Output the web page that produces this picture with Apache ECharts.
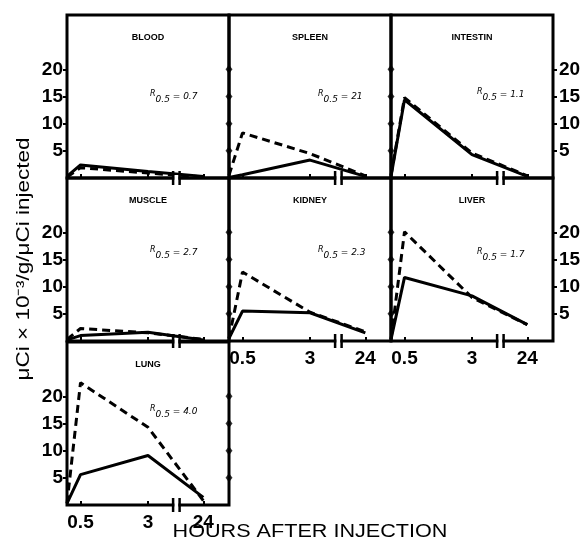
<!DOCTYPE html>
<html>
<head>
<meta charset="utf-8">
<script src="https://cdn.jsdelivr.net/npm/echarts@6/dist/echarts.min.js"></script>
<style>
  html, body { margin: 0; padding: 0; background: #fff; }
  #chart { width: 585px; height: 548px; }
</style>
</head>
<body>
<div id="chart"></div>
<script>
  // sampling times (hours) and tick labels
  const hours = [0, 0.5, 3, 24];
  const tickHours = [0.5, 3, 24];
  const yTicks = [5, 10, 15, 20];

  const organs = ['BLOOD', 'SPLEEN', 'INTESTIN', 'MUSCLE', 'KIDNEY', 'LIVER', 'LUNG'];
  const ratios = ['0.7', '21', '1.1', '2.7', '2.3', '1.7', '4.0'];

  // solid / dashed curves
  const bloodSolid = [0.3, 2.4, 1.2, 0.3];
  const bloodDashed = [0.2, 1.9, 0.9, 0.2];
  const spleenSolid = [0.1, 0.6, 3.3, 0.3];
  const spleenDashed = [0.5, 8.3, 4.5, 0.4];
  const intestinSolid = [0.3, 14.4, 4.3, 0.3];
  const intestinDashed = [0.5, 14.8, 4.6, 0.4];
  const muscleSolid = [0.2, 1.0, 1.6, 0.2];
  const muscleDashed = [0.3, 2.3, 1.5, 0.3];
  const kidneySolid = [0.5, 5.5, 5.2, 1.5];
  const kidneyDashed = [0.5, 12.7, 5.3, 1.7];
  const liverSolid = [0.3, 11.7, 8.3, 3.0];
  const liverDashed = [0.3, 20.1, 8.0, 3.0];
  const lungSolid = [0.3, 5.6, 9.1, 1.4];
  const lungDashed = [0.3, 22.5, 14.3, 0.8];

  const solids = [bloodSolid, spleenSolid, intestinSolid, muscleSolid, kidneySolid, liverSolid, lungSolid];
  const dashes = [bloodDashed, spleenDashed, intestinDashed, muscleDashed, kidneyDashed, liverDashed, lungDashed];

  // broken time axis: linear up to the break, compressed after it
  const breakAt = 4.05;
  const farPos = 5.05;
  function xPos(h) {
    if (h <= breakAt) return h;
    return breakAt + (h - breakAt) * (farPos - breakAt) / (24 - breakAt);
  }
  const tickPos = tickHours.map(xPos);

  // layout
  const cells = [[0, 0], [1, 0], [2, 0], [0, 1], [1, 1], [2, 1], [0, 2]];
  const colLeft = [67, 229, 391];
  const rowTop = [15, 178, 342];
  const W = 162, H = 163;
  const rTop = [82, 82, 80, 75, 75, 77, 70];
  const rLeft = [83, 89, 86, 83, 89, 86, 83];

  const labelFont = { color: '#000', fontSize: 19, fontWeight: 'bold', fontFamily: 'Liberation Sans' };

  let grid = [], xAxis = [], yAxis = [], series = [], graphic = [];

  cells.forEach((c, i) => {
    const col = c[0], row = c[1];
    grid.push({
      left: colLeft[col], top: rowTop[row], width: W, height: H,
      show: true, borderColor: '#000', borderWidth: 3, backgroundColor: 'transparent'
    });
    const showX = (i === 4 || i === 5 || i === 6);
    xAxis.push({
      type: 'value', gridIndex: i, min: 0, max: 6,
      axisLine: { show: false },
      splitLine: { show: false },
      axisTick: { show: true, inside: true, length: 4, customValues: tickPos, lineStyle: { color: '#000', width: 2 } },
      axisLabel: {
        show: showX, customValues: tickPos, margin: 8,
        formatter: v => {
          let k = tickPos.findIndex(p => Math.abs(p - v) < 1e-6);
          return k >= 0 ? String(tickHours[k]) : '';
        },
        ...labelFont
      }
    });
    yAxis.push({
      type: 'value', gridIndex: i, min: 0, max: 30,
      axisLine: { show: false },
      splitLine: { show: false },
      axisTick: { show: col === 0, length: 4, customValues: yTicks, lineStyle: { color: '#000', width: 2 } },
      axisLabel: { show: col === 0, customValues: yTicks, margin: 4, ...labelFont }
    });
    if (col === 2) {
      yAxis.push({
        type: 'value', gridIndex: i, min: 0, max: 30, position: 'right',
        axisLine: { show: false },
        splitLine: { show: false },
        axisTick: { show: true, length: 4, customValues: yTicks, lineStyle: { color: '#000', width: 2 } },
        axisLabel: { show: true, customValues: yTicks, margin: 6, ...labelFont }
      });
    }
    const yIdx = yAxis.length - (col === 2 ? 2 : 1);

    series.push({
      type: 'line', xAxisIndex: i, yAxisIndex: yIdx,
      data: hours.map((h, k) => [xPos(h), solids[i][k]]),
      symbol: 'none', clip: false, silent: true,
      lineStyle: { color: '#000', width: 3 }
    });
    series.push({
      type: 'line', xAxisIndex: i, yAxisIndex: yIdx,
      data: hours.map((h, k) => [xPos(h), dashes[i][k]]),
      symbol: 'none', clip: false, silent: true,
      lineStyle: { color: '#000', width: 3, type: [8, 5] }
    });
    // axis break mark
    series.push({
      type: 'custom', xAxisIndex: i, yAxisIndex: yIdx, clip: false, silent: true, z: 5,
      data: [[breakAt, 0]],
      renderItem: (params, api) => {
        const p = api.coord([api.value(0), api.value(1)]);
        return {
          type: 'group',
          children: [
            { type: 'rect', shape: { x: p[0] - 2, y: p[1] - 3, width: 4, height: 6 }, style: { fill: '#fff' } },
            { type: 'rect', shape: { x: p[0] - 4.5, y: p[1] - 7, width: 2.5, height: 14 }, style: { fill: '#000' } },
            { type: 'rect', shape: { x: p[0] + 2, y: p[1] - 7, width: 2.5, height: 14 }, style: { fill: '#000' } }
          ]
        };
      }
    });
    // diamond ticks on shared borders
    if (col > 0 || i === 6) {
      const xs = [];
      if (col > 0) xs.push(0);
      if (i === 6) xs.push(6);
      series.push({
        type: 'scatter', xAxisIndex: i, yAxisIndex: yIdx, clip: false, silent: true, z: 4,
        symbol: 'diamond', symbolSize: [7, 9],
        itemStyle: { color: '#000' },
        data: xs.flatMap(x => yTicks.map(v => [x, v]))
      });
    }

    graphic.push({
      type: 'text', x: colLeft[col] + W / 2, y: rowTop[row] + 23,
      style: { text: organs[i], font: 'bold 9px "Liberation Sans"', fill: '#000', align: 'center', verticalAlign: 'middle' }
    });
    graphic.push({
      type: 'text', x: colLeft[col] + rLeft[i], y: rowTop[row] + rTop[i],
      style: {
        text: '{r|R}{s|0.5}{t| = ' + ratios[i] + '}',
        fill: '#000', align: 'left', verticalAlign: 'middle',
        rich: {
          r: { font: 'italic 8px "DejaVu Sans"', verticalAlign: 'top', lineHeight: 14 },
          s: { font: 'italic 9px "DejaVu Sans"', verticalAlign: 'bottom', lineHeight: 14 },
          t: { font: 'italic 9px "DejaVu Sans"', verticalAlign: 'middle', lineHeight: 14 }
        }
      }
    });
  });

  // axis titles (the source lettering is wide, so stretch along the text)
  graphic.push({
    type: 'text', x: 24, y: 259, rotation: Math.PI / 2, scaleX: 1.25,
    style: { text: 'μCi × 10⁻³/g/μCi injected', font: '18px "Liberation Sans"', fill: '#000', align: 'center', verticalAlign: 'middle' }
  });
  graphic.push({
    type: 'text', x: 310, y: 532, scaleX: 1.2,
    style: { text: 'HOURS AFTER INJECTION', font: '18px "Liberation Sans"', fill: '#000', align: 'center', verticalAlign: 'middle' }
  });

  let myChart = echarts.init(document.getElementById('chart'));
  myChart.setOption({
    animation: false,
    backgroundColor: '#fff',
    grid: grid,
    xAxis: xAxis,
    yAxis: yAxis,
    series: series,
    graphic: graphic
  });
</script>
</body>
</html>
